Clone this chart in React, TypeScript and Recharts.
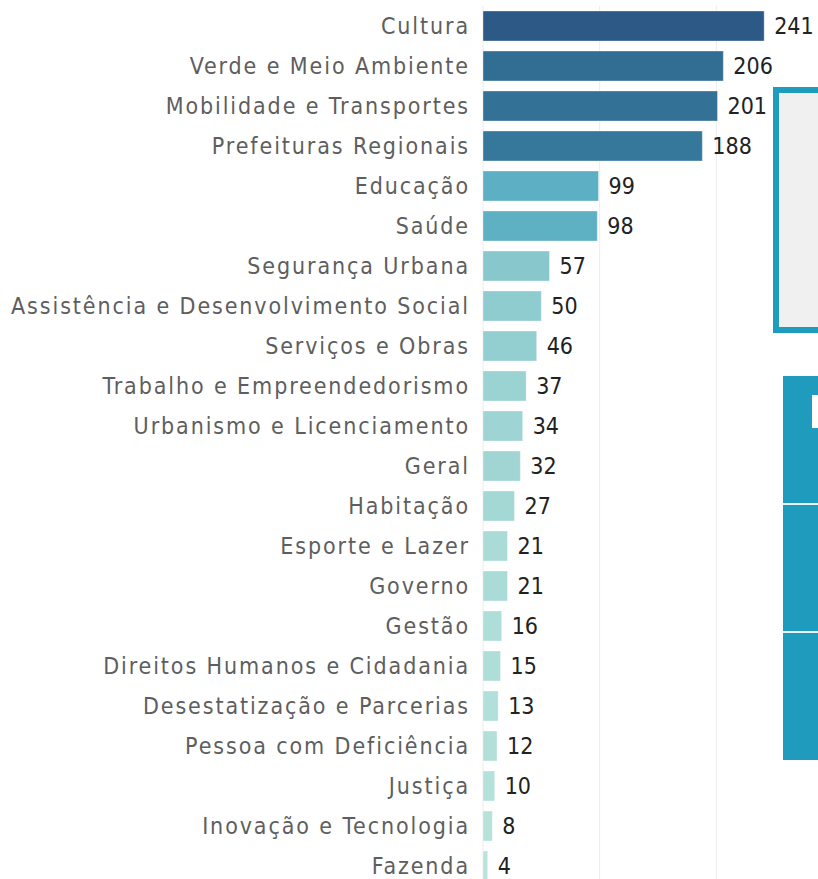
import React from "react";
import { BarChart, Bar, XAxis, YAxis, CartesianGrid, LabelList, Cell } from "recharts";

const categories = [
  "Cultura",
  "Verde e Meio Ambiente",
  "Mobilidade e Transportes",
  "Prefeituras Regionais",
  "Educação",
  "Saúde",
  "Segurança Urbana",
  "Assistência e Desenvolvimento Social",
  "Serviços e Obras",
  "Trabalho e Empreendedorismo",
  "Urbanismo e Licenciamento",
  "Geral",
  "Habitação",
  "Esporte e Lazer",
  "Governo",
  "Gestão",
  "Direitos Humanos e Cidadania",
  "Desestatização e Parcerias",
  "Pessoa com Deficiência",
  "Justiça",
  "Inovação e Tecnologia",
  "Fazenda",
];

const counts = [241, 206, 201, 188, 99, 98, 57, 50, 46, 37, 34, 32, 27, 21, 21, 16, 15, 13, 12, 10, 8, 4];

const xTicks = [0, 100, 200, 300];

const data = categories.map((name, i) => ({ name, value: counts[i] }));

// sequential blue-teal ramp, keyed on value
const ramp: [number, number[]][] = [
  [0, [189, 230, 220]],
  [50, [143, 204, 207]],
  [100, [92, 175, 195]],
  [190, [53, 119, 155]],
  [241, [44, 89, 133]],
];

function colorFor(v: number) {
  for (let i = 1; i < ramp.length; i++) {
    const [v0, c0] = ramp[i - 1];
    const [v1, c1] = ramp[i];
    if (v <= v1) {
      const t = (v - v0) / (v1 - v0);
      const c = c0.map((x, k) => Math.round(x + (c1[k] - x) * t));
      return `rgb(${c[0]},${c[1]},${c[2]})`;
    }
  }
  const c = ramp[ramp.length - 1][1];
  return `rgb(${c[0]},${c[1]},${c[2]})`;
}

const font = "'DejaVu Sans Condensed', 'DejaVu Sans', sans-serif";

export default function App() {
  return (
    <div
      style={{
        position: "fixed",
        left: 0,
        top: 0,
        width: 818,
        height: 879,
        overflow: "hidden",
        background: "#fff",
        fontFamily: font,
      }}
    >
      <BarChart
        width={850}
        height={886}
        data={data}
        layout="vertical"
        barCategoryGap={5}
        margin={{ top: 6, right: 17, left: 0, bottom: 0 }}
      >
        <CartesianGrid horizontal={false} stroke="#ececec" />
        <XAxis type="number" domain={[0, 300]} ticks={xTicks} hide />
        <YAxis
          type="category"
          dataKey="name"
          width={483}
          axisLine={false}
          tickLine={false}
          tickMargin={7}
          tick={{ fill: "#5e5e5e", fontSize: 23, fontFamily: font, fontStretch: "condensed", letterSpacing: 1.9 }}
        />
        <Bar dataKey="value" isAnimationActive={false} stroke="rgba(255,255,255,0.35)">
          {data.map((d) => (
            <Cell key={d.name} fill={colorFor(d.value)} />
          ))}
          <LabelList
            dataKey="value"
            position="right"
            offset={10}
            fill="#222"
            fontSize={23}
            fontFamily={font}
            style={{ fontStretch: "condensed" }}
          />
        </Bar>
      </BarChart>

      {/* panels cut off at the right edge */}
      <div
        style={{
          position: "absolute",
          left: 773,
          top: 87,
          width: 60,
          height: 246,
          boxSizing: "border-box",
          border: "6px solid #1e9bbd",
          background: "#f0f0f0",
        }}
      />
      <div style={{ position: "absolute", left: 783, top: 376, width: 40, height: 384, background: "#1e9bbd" }} />
      <div style={{ position: "absolute", left: 783, top: 503, width: 40, height: 2, background: "#e8f4f8" }} />
      <div style={{ position: "absolute", left: 783, top: 631, width: 40, height: 2, background: "#e8f4f8" }} />
      <div style={{ position: "absolute", left: 812, top: 395, width: 10, height: 33, background: "#fff" }} />
    </div>
  );
}
